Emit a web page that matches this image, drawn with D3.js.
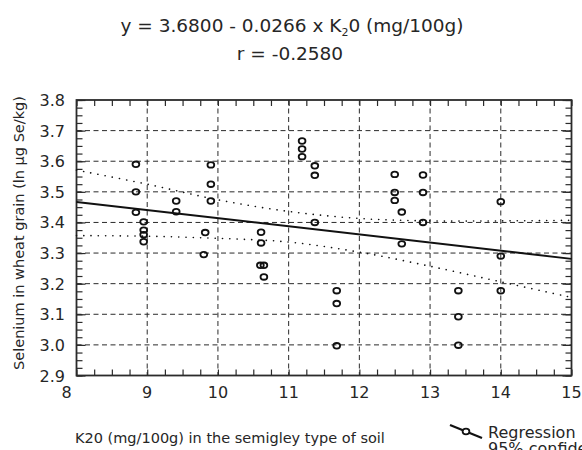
<!DOCTYPE html>
<html>
<head>
<meta charset="utf-8">
<script src="https://cdn.jsdelivr.net/npm/d3@7"></script>
<style>
	body{margin:0;background:#fff;}
	text{font-family:"DejaVu Sans",Verdana,sans-serif;fill:#262626;}
</style>
</head>
<body>
<div id="chart"></div>
<script>

//data
const potassium = [8.84,8.84,8.84,8.95,8.95,8.95,8.95,9.41,9.41,9.82,9.80,9.90,9.90,9.90,
	10.61,10.61,10.60,10.65,10.65,11.19,11.19,11.19,11.37,11.37,11.37,11.68,11.68,11.68,
	12.50,12.50,12.50,12.60,12.60,12.90,12.90,12.90,13.40,13.40,13.40,14.0,14.0,14.0];
const selenium = [3.59,3.50,3.433,3.402,3.375,3.36,3.337,3.47,3.435,3.367,3.295,3.588,3.525,3.47,
	3.368,3.333,3.26,3.26,3.222,3.666,3.64,3.615,3.585,3.554,3.40,3.177,3.135,2.997,
	3.557,3.498,3.472,3.434,3.33,3.555,3.498,3.40,3.177,3.092,2.999,3.468,3.29,3.177];

const regX = [8, 15];
const regY = [3.467, 3.281];

const bandX = [8, 9, 10, 11, 12, 13, 14, 15];
const bandUpper = [3.571, 3.525, 3.474, 3.436, 3.413, 3.405, 3.405, 3.407];
const bandLower = [3.357, 3.355, 3.348, 3.336, 3.303, 3.257, 3.206, 3.155];

const xTicks = [8, 9, 10, 11, 12, 13, 14, 15];
const yTicks = [2.9, 3.0, 3.1, 3.2, 3.3, 3.4, 3.5, 3.6, 3.7, 3.8];

const titleLine1 = ["y = 3.6800 - 0.0266 x K", "2", "0 (mg/100g)"];
const titleLine2 = "r = -0.2580";
const xTitle = "K20 (mg/100g) in the semigley type of soil";
const yTitle = "Selenium in wheat grain (ln \u00b5g Se/kg)";
const legendLabels = ["Regression", "95% confidence"];


const width = 582;
const height = 450;

let svg = d3.select("#chart")
	.append("svg")
	.attr("width", width)
	.attr("height", height);

let x = d3.scaleLinear().domain([8, 15]).range([76.5, 571.5]);
let y = d3.scaleLinear().domain([2.9, 3.8]).range([375.5, 100]);

let minorX = d3.range(8, 15.001, 0.25);
let minorY = d3.range(2.9, 3.8001, 0.025);

//grid
let grid = svg.append("g").attr("class", "grid");

grid.selectAll(".vgrid")
	.data(xTicks.slice(1, -1))
	.enter()
	.append("line")
	.attr("x1", d => x(d))
	.attr("x2", d => x(d))
	.attr("y1", y(3.8))
	.attr("y2", y(2.9))
	.attr("stroke", "#2b2b2b")
	.attr("stroke-width", 1)
	.attr("stroke-dasharray", "5,3.5");

grid.selectAll(".hgrid")
	.data(yTicks.slice(1, -1))
	.enter()
	.append("line")
	.attr("x1", x(8))
	.attr("x2", x(15))
	.attr("y1", d => y(d))
	.attr("y2", d => y(d))
	.attr("stroke", "#2b2b2b")
	.attr("stroke-width", 1)
	.attr("stroke-dasharray", "5,3.5");

//inward ticks on all four sides
function tickAxis(axis, tx, ty, values, size){
	let g = svg.append("g")
		.attr("transform", "translate(" + tx + "," + ty + ")")
		.call(axis.tickValues(values).tickSize(size).tickFormat(""));
	g.select(".domain").remove();
	g.selectAll("line").attr("stroke", "#2b2b2b").attr("stroke-width", 1.2);
}

tickAxis(d3.axisBottom(x), 0, y(2.9), minorX, -6);
tickAxis(d3.axisTop(x), 0, y(3.8), minorX, -6);
tickAxis(d3.axisLeft(y), x(8), 0, minorY, -6);
tickAxis(d3.axisRight(y), x(15), 0, minorY, -6);
tickAxis(d3.axisLeft(y), x(8), 0, yTicks, -9);
tickAxis(d3.axisRight(y), x(15), 0, yTicks, -9);

//frame
svg.append("rect")
	.attr("x", x(8))
	.attr("y", y(3.8))
	.attr("width", x(15) - x(8))
	.attr("height", y(2.9) - y(3.8))
	.attr("fill", "none")
	.attr("stroke", "#2b2b2b")
	.attr("stroke-width", 1.8);

//tick labels
svg.append("g")
	.selectAll("text")
	.data(xTicks)
	.enter()
	.append("text")
	.attr("x", (d, i) => x(d) - (i == 0 ? 10 : 0))
	.attr("y", 398)
	.attr("text-anchor", "middle")
	.attr("font-size", "16px")
	.text(d => d);

svg.append("g")
	.selectAll("text")
	.data(yTicks)
	.enter()
	.append("text")
	.attr("x", 65)
	.attr("y", d => y(d) + 6)
	.attr("text-anchor", "end")
	.attr("font-size", "16px")
	.text(d => d.toFixed(1));

//confidence bands
let bandLine = d3.line()
	.x(d => x(d[0]))
	.y(d => y(d[1]))
	.curve(d3.curveCatmullRom);

[bandUpper, bandLower].forEach(band => {
	svg.append("path")
		.attr("d", bandLine(bandX.map((d, i) => [d, band[i]])))
		.attr("fill", "none")
		.attr("stroke", "#111")
		.attr("stroke-width", 1.6)
		.attr("stroke-linecap", "round")
		.attr("stroke-dasharray", "0.1,7.2");
});

//regression line
svg.append("line")
	.attr("x1", x(regX[0]))
	.attr("y1", y(regY[0]))
	.attr("x2", x(regX[1]))
	.attr("y2", y(regY[1]))
	.attr("stroke", "#111")
	.attr("stroke-width", 2);

//points
svg.append("g")
	.selectAll("ellipse")
	.data(potassium)
	.enter()
	.append("ellipse")
	.attr("cx", d => x(d))
	.attr("cy", (d, i) => y(selenium[i]))
	.attr("rx", 3.4)
	.attr("ry", 2.8)
	.attr("fill", "none")
	.attr("stroke", "#111")
	.attr("stroke-width", 1.8);

//titles
let t1 = svg.append("text")
	.attr("x", 292)
	.attr("y", 32)
	.attr("text-anchor", "middle")
	.attr("font-size", "18.5px");
t1.append("tspan").text(titleLine1[0]);
t1.append("tspan").attr("font-size", "11px").attr("dy", 4).text(titleLine1[1]);
t1.append("tspan").attr("dy", -4).text(titleLine1[2]);

svg.append("text")
	.attr("x", 290)
	.attr("y", 60)
	.attr("text-anchor", "middle")
	.attr("font-size", "18.5px")
	.text(titleLine2);

svg.append("text")
	.attr("x", 75)
	.attr("y", 443)
	.attr("font-size", "14.5px")
	.text(xTitle);

svg.append("text")
	.attr("transform", "translate(24,233) rotate(-90)")
	.attr("text-anchor", "middle")
	.attr("font-size", "14.5px")
	.text(yTitle);

//legend
let legend = svg.append("g").attr("class", "legend");

legend.append("line")
	.attr("x1", 450)
	.attr("y1", 425)
	.attr("x2", 482)
	.attr("y2", 438)
	.attr("stroke", "#111")
	.attr("stroke-width", 2.2);

legend.append("ellipse")
	.attr("cx", 466)
	.attr("cy", 431.5)
	.attr("rx", 3.4)
	.attr("ry", 2.8)
	.attr("fill", "#fff")
	.attr("stroke", "#111")
	.attr("stroke-width", 1.8);

legend.selectAll(".legend-text")
	.data(legendLabels)
	.enter()
	.append("text")
	.attr("x", 488)
	.attr("y", (d, i) => 438 + i * 16)
	.attr("font-size", "16px")
	.text(d => d);

</script>
</body>
</html>
